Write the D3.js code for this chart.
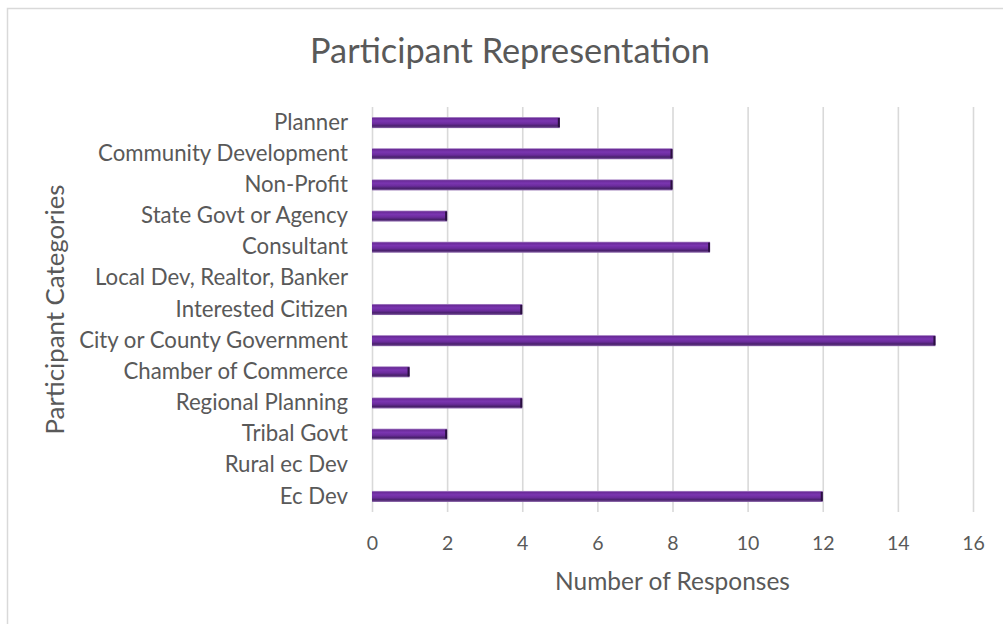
<!DOCTYPE html>
<html>
<head>
<meta charset="utf-8">
<script src="https://cdn.jsdelivr.net/npm/d3@7"></script>
<style>
  html, body { margin: 0; padding: 0; background: #fff; }
  svg { display: block; }
  text { font-family: Lato, "Open Sans", sans-serif; fill: #595959; }
</style>
</head>
<body>
<svg id="chart" width="1003" height="624"></svg>
<script>
// Participant categories, top to bottom, and number of responses in each
const categories = [
  "Planner",
  "Community Development",
  "Non-Profit",
  "State Govt or Agency",
  "Consultant",
  "Local Dev, Realtor, Banker",
  "Interested Citizen",
  "City or County Government",
  "Chamber of Commerce",
  "Regional Planning",
  "Tribal Govt",
  "Rural ec Dev",
  "Ec Dev"
];
const responses = [5, 8, 8, 2, 9, 0, 4, 15, 1, 4, 2, 0, 12];
const xTicks = [0, 2, 4, 6, 8, 10, 12, 14, 16];

const titleText = "Participant Representation";
const xTitleText = "Number of Responses";
const yTitleText = "Participant Categories";

const svg = d3.select("#chart");

// chart frame
svg.append("rect")
  .attr("x", 7.5).attr("y", 8.5)
  .attr("width", 1010).attr("height", 640)
  .attr("fill", "#fff")
  .attr("stroke", "#d9d9d9")
  .attr("stroke-width", 1.5);

const plot = { left: 372, right: 973, top: 107, bottom: 512 };

const x = d3.scaleLinear().domain([0, 16]).range([plot.left, plot.right]);
const y = d3.scaleBand().domain(categories).range([plot.top, plot.bottom]).paddingInner(0.645).paddingOuter(0.3225);

// bar shading: darker rims, brighter core
const defs = svg.append("defs");
const grad = defs.append("linearGradient")
  .attr("id", "barShade").attr("x1", 0).attr("y1", 0).attr("x2", 0).attr("y2", 1);
[
  [0, "#b89bd0"], [0.12, "#6a2b98"], [0.35, "#7a35b0"],
  [0.6, "#6b2c9c"], [0.82, "#48206b"], [1, "#8f6aae"]
].forEach(([o, c]) => grad.append("stop").attr("offset", o).attr("stop-color", c));

// vertical gridlines
const grid = svg.append("g")
  .attr("transform", `translate(0,${plot.bottom})`)
  .call(d3.axisBottom(x).tickValues(xTicks).tickSize(-(plot.bottom - plot.top)).tickFormat(""));
grid.select(".domain").remove();
grid.selectAll(".tick line").attr("stroke", "#d9d9d9").attr("stroke-width", 1.6);

// x tick labels
const xAxis = svg.append("g")
  .attr("transform", `translate(0,${plot.bottom})`)
  .call(d3.axisBottom(x).tickValues(xTicks).tickSize(0).tickPadding(0).tickFormat(d3.format("d")));
xAxis.select(".domain").remove();
xAxis.selectAll(".tick text")
  .attr("y", 38)
  .attr("dy", 0)
  .attr("font-size", 19.5)
  .style("font-family", "Lato, sans-serif")
  .attr("fill", "#595959");

// category labels
const yAxis = svg.append("g")
  .attr("transform", `translate(${plot.left},0)`)
  .call(d3.axisLeft(y).tickSize(0).tickPadding(24));
yAxis.select(".domain").remove();
const catLabels = yAxis.selectAll(".tick text")
  .attr("font-size", 20)
  .style("font-family", "Lato, sans-serif")
  .attr("fill", "#595959");
// size the category labels so the "Community Development" label spans 250px
{
  const ref = catLabels.filter(d => d === "Community Development").node();
  const w = ref.getComputedTextLength();
  catLabels.attr("font-size", 20 * 250 / w);
}

// bars
const barData = categories.map((c, i) => ({ c, v: responses[i] })).filter(d => d.v > 0);
const bars = svg.append("g");
bars.selectAll("rect.bar")
  .data(barData)
  .join("rect")
  .attr("class", "bar")
  .attr("x", x(0))
  .attr("y", d => y(d.c))
  .attr("width", d => x(d.v) - x(0))
  .attr("height", y.bandwidth())
  .attr("fill", "url(#barShade)");
// dark end caps
bars.selectAll("rect.cap")
  .data(barData)
  .join("rect")
  .attr("class", "cap")
  .attr("x", d => x(d.v) - 2)
  .attr("y", d => y(d.c) + 1)
  .attr("width", 2)
  .attr("height", y.bandwidth() - 2)
  .attr("fill", "#2a1040");

// fit a text element's size so it spans the given width
function fitWidth(sel, size, width) {
  sel.attr("font-size", size);
  const w = sel.node().getComputedTextLength();
  sel.attr("font-size", size * width / w);
}

// chart title
const title = svg.append("text")
  .attr("x", 510).attr("y", 63)
  .attr("text-anchor", "middle")
  .text(titleText);
fitWidth(title, 30, 400);

// x axis title
const xTitle = svg.append("text")
  .attr("x", (plot.left + plot.right) / 2).attr("y", 590)
  .attr("text-anchor", "middle")
  .text(xTitleText);
fitWidth(xTitle, 23, 235);

// y axis title
const yTitle = svg.append("text")
  .attr("transform", `translate(64,${(plot.top + plot.bottom) / 2}) rotate(-90)`)
  .attr("text-anchor", "middle")
  .text(yTitleText);
fitWidth(yTitle, 23, 250);
</script>
</body>
</html>
